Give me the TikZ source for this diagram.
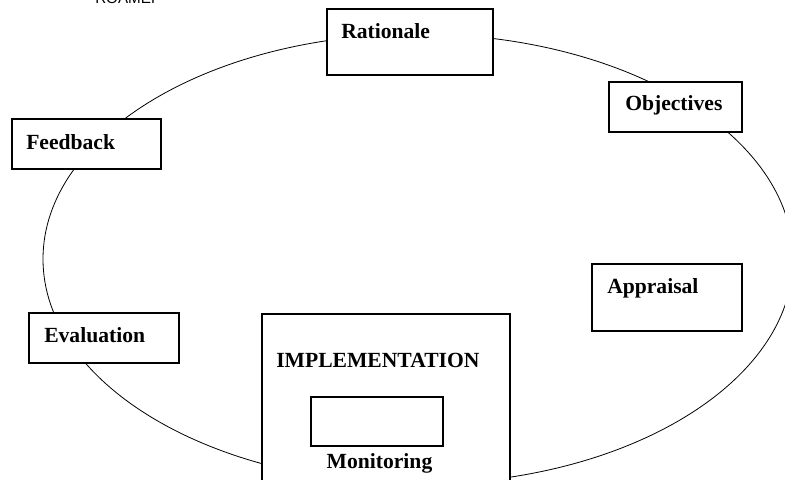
\documentclass[tikz,border=0pt]{standalone}
\usepackage{fontspec}
\setmainfont{Liberation Serif}
\newfontfamily\arialfont{Liberation Sans}
\begin{document}
\begin{tikzpicture}[x=0.75pt,y=-0.75pt,
  box/.style={draw,line width=0.8pt,fill=white,inner sep=0pt},
  lbl/.style={inner sep=0pt,anchor=base west,font=\fontsize{16.2}{18}\selectfont\bfseries}]
\useasboundingbox (0,0) rectangle (785,479);
\clip (0,0) rectangle (785,479);
\fill[white] (0,0) rectangle (785,479);
\node[inner sep=0pt,anchor=base west,font=\arialfont\fontsize{11.4}{13}\selectfont] (title) at (95,3) {ROAMEF};
\draw[line width=0.6pt] (418,259) ellipse [x radius=375, y radius=225];
\node[box,minimum width=124.5pt,minimum height=49.5pt] (rat) at (410,42) {};
\node[lbl] (ratt) at (341,38) {Rationale};
\node[box,minimum width=99.75pt,minimum height=37.5pt] (obj) at (675.5,107) {};
\node[lbl] (objt) at (625,110) {Objectives};
\node[box,minimum width=111.75pt,minimum height=37.5pt] (fb) at (86.5,144) {};
\node[lbl] (fbt) at (26,149) {Feedback};
\node[box,minimum width=112.5pt,minimum height=37.5pt] (ev) at (104,338) {};
\node[lbl] (evt) at (44,342) {Evaluation};
\node[box,minimum width=112.5pt,minimum height=50.25pt] (ap) at (667,297.5) {};
\node[lbl] (apt) at (607,293) {Appraisal};
\node[box,minimum width=186pt,minimum height=127.5pt] (imp) at (386,399) {};
\node[lbl] (impt) at (276,367) {IMPLEMENTATION};
\node[box,minimum width=99pt,minimum height=36.75pt] (mon) at (377,421.5) {};
\node[lbl,anchor=base] (mont) at (379.5,468) {Monitoring};
\end{tikzpicture}
\end{document}
